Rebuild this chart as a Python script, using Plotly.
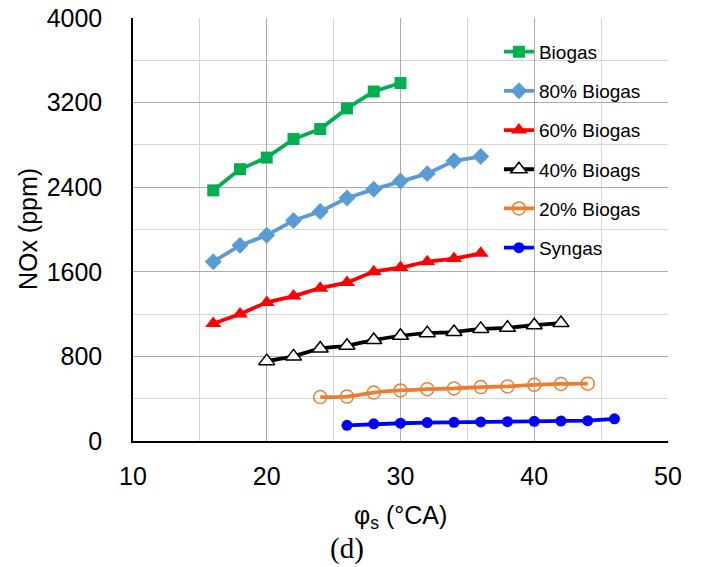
import plotly.graph_objects as go

# Data
x_biogas = [16, 18, 20, 22, 24, 26, 28, 30]
y_biogas = [2370, 2570, 2680, 2855, 2950, 3145, 3305, 3385]

x_80 = [16, 18, 20, 22, 24, 26, 28, 30, 32, 34, 36]
y_80 = [1695, 1850, 1945, 2085, 2170, 2298, 2380, 2458, 2528, 2650, 2690]

x_60 = [16, 18, 20, 22, 24, 26, 28, 30, 32, 34, 36]
y_60 = [1110, 1200, 1310, 1370, 1445, 1500, 1600, 1640, 1695, 1725, 1775]

x_40 = [20, 22, 24, 26, 28, 30, 32, 34, 36, 38, 40, 42]
y_40 = [755, 800, 875, 900, 955, 995, 1020, 1030, 1060, 1070, 1095, 1115]

x_20 = [24, 26, 28, 30, 32, 34, 36, 38, 40, 42, 44]
y_20 = [415, 420, 458, 478, 490, 497, 510, 516, 531, 540, 542]

x_syn = [26, 28, 30, 32, 34, 36, 38, 40, 42, 44, 46]
y_syn = [148, 162, 168, 174, 177, 180, 183, 186, 189, 192, 210]

x_ticks = [10, 20, 30, 40, 50]
y_ticks = [0, 800, 1600, 2400, 3200, 4000]

series = [
    ("Biogas", x_biogas, y_biogas, "#00B050", dict(symbol="square", size=12, color="#00B050"), "linear"),
    ("80% Biogas", x_80, y_80, "#5B9BD5", dict(symbol="diamond", size=13, color="#5B9BD5"), "linear"),
    ("60% Biogas", x_60, y_60, "#FF0000", dict(symbol="triangle-up", size=14, color="#FF0000"), "spline"),
    ("40% Bioags", x_40, y_40, "#000000", dict(symbol="triangle-up", size=14, color="white", line=dict(color="black", width=1.5)), "spline"),
    ("20% Biogas", x_20, y_20, "#ED7D31", dict(symbol="circle-open", size=13, color="#ED7D31", line=dict(width=1.5)), "spline"),
    ("Syngas", x_syn, y_syn, "#0000FF", dict(symbol="circle", size=11, color="#0000FF"), "linear"),
]

fig = go.Figure()
for i, (name, xs, ys, col, mk, shape) in enumerate(series):
    fig.add_trace(go.Scatter(
        x=xs, y=ys, name=name, mode="lines+markers",
        line=dict(color=col, width=3.8, shape=shape, smoothing=0.5),
        marker=mk, legendgroup=f"g{i}",
    ))

fig.update_layout(
    width=702, height=567,
    margin=dict(l=133, r=34, t=18, b=126),
    paper_bgcolor="white", plot_bgcolor="white",
    font=dict(family="Liberation Sans, Arial, sans-serif", color="black", size=25),
    showlegend=True,
    legend=dict(
        x=0.684, y=0.965, xanchor="left", yanchor="top",
        bgcolor="rgba(0,0,0,0)", font=dict(size=19),
        tracegroupgap=11.5, traceorder="grouped",
    ),
    xaxis=dict(
        range=[10, 50], tickvals=x_ticks, showgrid=True, automargin=False,
        gridcolor="#ABABAB", gridwidth=1.4,
        minor=dict(dtick=5, showgrid=True, gridcolor="#D6D6D6", gridwidth=1.4),
        showline=True, linecolor="black", linewidth=1.5,
        ticks="", ticklabelstandoff=12, zeroline=False,
        tickfont=dict(size=25),
    ),
    yaxis=dict(
        range=[0, 4000], tickvals=y_ticks, showgrid=True, automargin=False,
        gridcolor="#ABABAB", gridwidth=1.4,
        minor=dict(dtick=400, showgrid=True, gridcolor="#D6D6D6", gridwidth=1.4),
        showline=True, linecolor="black", linewidth=1.5,
        ticks="", ticklabelstandoff=24, zeroline=False,
        tickfont=dict(size=25),
    ),
    annotations=[
        dict(text="NOx (ppm)", xref="paper", yref="paper", x=-0.197, y=0.5,
             textangle=-90, showarrow=False, xanchor="center", yanchor="middle",
             font=dict(size=25)),
        dict(text="φ<sub>s</sub> (°CA)", xref="paper", yref="paper", x=0.5, y=-0.18,
             showarrow=False, xanchor="center", yanchor="middle",
             font=dict(size=25)),
        dict(text="(d)", xref="paper", yref="paper", x=0.4, y=-0.253,
             showarrow=False, xanchor="center", yanchor="middle",
             font=dict(size=29, family="Liberation Serif, Times New Roman, serif")),
    ],
)

fig.write_html("out.html", post_script="document.body.style.margin='0';",
               config={"displayModeBar": False})
